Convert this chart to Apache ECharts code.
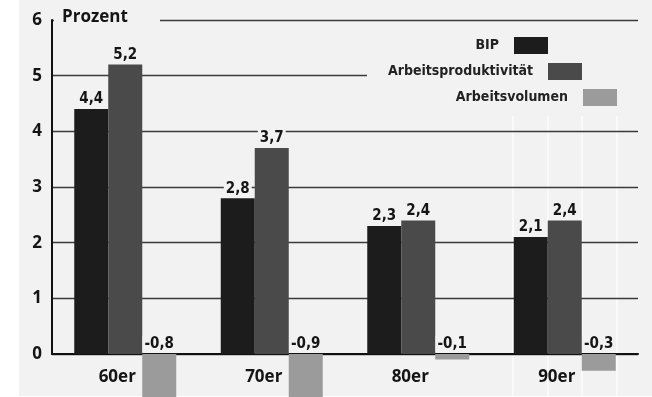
<!DOCTYPE html>
<html>
<head>
<meta charset="utf-8">
<script src="https://cdn.jsdelivr.net/npm/echarts@6/dist/echarts.min.js"></script>
<style>
html,body{margin:0;padding:0;background:#fff;}
#chart{width:652px;height:397px;}
</style>
</head>
<body>
<div id="chart"></div>
<script>
var categories = ['60er', '70er', '80er', '90er'];
var seriesNames = ['BIP', 'Arbeitsproduktivität', 'Arbeitsvolumen'];
var bip = [4.4, 2.8, 2.3, 2.1];
var produktivitaet = [5.2, 3.7, 2.4, 2.4];
var volumen = [-0.8, -0.9, -0.1, -0.3];
var yTicks = [0, 1, 2, 3, 4, 5, 6];
var unitLabel = 'Prozent';

var BG = '#f2f2f2';
var colors = ['#1c1c1c', '#4a4a4a', '#9b9b9b'];
var narrow = '"Liberation Sans Narrow", "DejaVu Sans Condensed", sans-serif';
var wide = '"Open Sans", "Noto Sans", sans-serif';

var chart = echarts.init(document.getElementById('chart'), null, {renderer: 'canvas'});

function lbl() {
  return {
    show: true,
    position: 'top',
    distance: 2,
    fontFamily: narrow,
    fontWeight: 'bold',
    fontSize: 15,
    color: '#151515',
    backgroundColor: BG,
    padding: [1, 2, 0, 2],
    formatter: function (p) { return String(p.value).replace('.', ','); }
  };
}

function legendFor(name, right, top) {
  return {
    data: [name],
    right: right,
    top: top,
    padding: 0,
    align: 'right',
    icon: 'rect',
    itemWidth: 34,
    itemHeight: 17,
    selectedMode: false,
    textStyle: {
      fontFamily: narrow,
      fontWeight: 'bold',
      fontSize: 14,
      color: '#222',
      padding: [0, 10, 0, 0]
    }
  };
}

var whiteLines = [513, 548, 582, 617].map(function (x) {
  return {
    type: 'line',
    z: -5,
    shape: {x1: x, y1: 108, x2: x, y2: 397},
    style: {stroke: 'rgba(255,255,255,0.85)', lineWidth: 1.5}
  };
});

var option = {
  animation: false,
  backgroundColor: '#ffffff',
  grid: {left: 52, right: 14, top: 20, bottom: 43, containLabel: false},
  legend: [
    legendFor(seriesNames[0], 104, 37),
    legendFor(seriesNames[1], 70, 63),
    legendFor(seriesNames[2], 35, 89)
  ],
  xAxis: {
    type: 'category',
    data: categories,
    axisLine: {show: true, onZero: true, lineStyle: {color: '#111', width: 2}},
    axisTick: {show: false},
    axisLabel: {
      fontFamily: wide,
      fontWeight: 'bold',
      fontSize: 17,
      color: '#151515',
      margin: 15,
      padding: [0, 16, 0, 0]
    },
    splitLine: {show: false}
  },
  yAxis: {
    type: 'value',
    min: yTicks[0],
    max: yTicks[yTicks.length - 1],
    interval: 1,
    axisLine: {show: true, lineStyle: {color: '#111', width: 2}},
    axisTick: {show: false},
    axisLabel: {
      fontFamily: wide,
      fontWeight: 'bold',
      fontSize: 17,
      color: '#151515',
      margin: 10
    },
    splitLine: {show: true, lineStyle: {color: '#3a3a3a', width: 1.3}}
  },
  graphic: {
    elements: [
      {type: 'rect', z: -10, shape: {x: 19, y: 0, width: 633, height: 396}, style: {fill: BG}},
      {type: 'rect', z: 1, shape: {x: 54, y: 12, width: 106, height: 16}, style: {fill: BG}},
      {type: 'rect', z: 1, shape: {x: 367, y: 28, width: 285, height: 88}, style: {fill: BG}},
      {type: 'text', z: 5, left: 62, top: 9, style: {text: unitLabel, fontFamily: wide, fontWeight: 'bold', fontSize: 17, fill: '#151515'}}
    ].concat(whiteLines)
  },
  series: [
    {name: seriesNames[0], type: 'bar', data: bip, barWidth: 34, barGap: '0%', clip: false, itemStyle: {color: colors[0]}, label: lbl()},
    {name: seriesNames[1], type: 'bar', data: produktivitaet, barWidth: 34, barGap: '0%', clip: false, itemStyle: {color: colors[1]}, label: lbl()},
    {name: seriesNames[2], type: 'bar', data: volumen, barWidth: 34, barGap: '0%', clip: false, itemStyle: {color: colors[2]}, label: lbl()}
  ]
};
chart.setOption(option);
</script>
</body>
</html>
